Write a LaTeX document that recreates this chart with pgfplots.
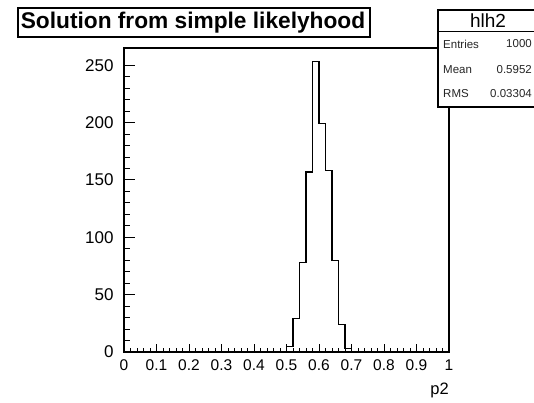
\documentclass[border=0pt]{standalone}
\usepackage{pgfplots}
\pgfplotsset{compat=1.18}
\usepackage{fontspec}
\setmainfont{Liberation Sans}

\begin{document}
\begin{tikzpicture}[x=1pt,y=1pt]
\clip (0,0) rectangle (534,402);
\fill[white] (0,0) rectangle (534,402);

\begin{axis}[
    at={(124pt,50pt)}, anchor=south west,
    scale only axis, width=325pt, height=304pt,
    xmin=0, xmax=1, ymin=0, ymax=265,
    xtick distance=0.1, minor x tick num=4,
    ytick distance=50, minor y tick num=4,
    xtick pos=left, ytick pos=left,
    tick align=inside,
    axis line style={line width=1.3pt},
    tick style={black, line width=0.9pt},
    xtick style={/pgfplots/major tick length=8pt, /pgfplots/minor tick length=4pt},
    ytick style={/pgfplots/major tick length=11pt, /pgfplots/minor tick length=5.5pt},
    /pgf/number format/assume math mode=true,
    xticklabel={\pgfmathprintnumber[fixed,precision=1]{\tick}},
    xticklabel style={font=\fontsize{15.5}{15.5}\selectfont, yshift=-4pt},
    yticklabel style={font=\fontsize{17}{17}\selectfont, xshift=-7pt},
    xlabel={p2},
    xlabel style={font=\fontsize{16.5}{16.5}\selectfont, at={(axis description cs:1,0)}, anchor=north east, yshift=-31pt, inner sep=0pt},
]
\addplot[const plot mark left, black, line width=1.3pt] coordinates {
    (0.00,0) (0.48,0) (0.50,5) (0.52,29) (0.54,78) (0.56,157) (0.58,253)
    (0.60,199) (0.62,158) (0.64,80) (0.66,24) (0.68,3) (0.70,0) (1.00,0)
};
\end{axis}

% title box
\draw[line width=1.2pt, fill=white] (18,365) rectangle (370,394);
\node[font=\bfseries\fontsize{22.7}{22.7}\selectfont] at (193,379.5) {Solution from simple likelyhood};

% statistics box
\draw[line width=1.2pt, fill=white] (438,295) rectangle (560,392);
\draw[line width=1pt] (438,370) -- (560,370);
\node[font=\fontsize{19}{19}\selectfont] at (488,381) {hlh2};
\begin{scope}[every node/.style={font=\fontsize{11.5}{11.5}\selectfont, inner sep=0pt, text=black!85}]
\node[anchor=west] at (443,358) {Entries};
\node[anchor=west] at (443,332) {Mean};
\node[anchor=west] at (443,308) {RMS};
\node[anchor=east] at (532,358) {1000};
\node[anchor=east] at (532,332) {0.5952};
\node[anchor=east] at (532,308) {0.03304};
\end{scope}
\end{tikzpicture}
\end{document}
